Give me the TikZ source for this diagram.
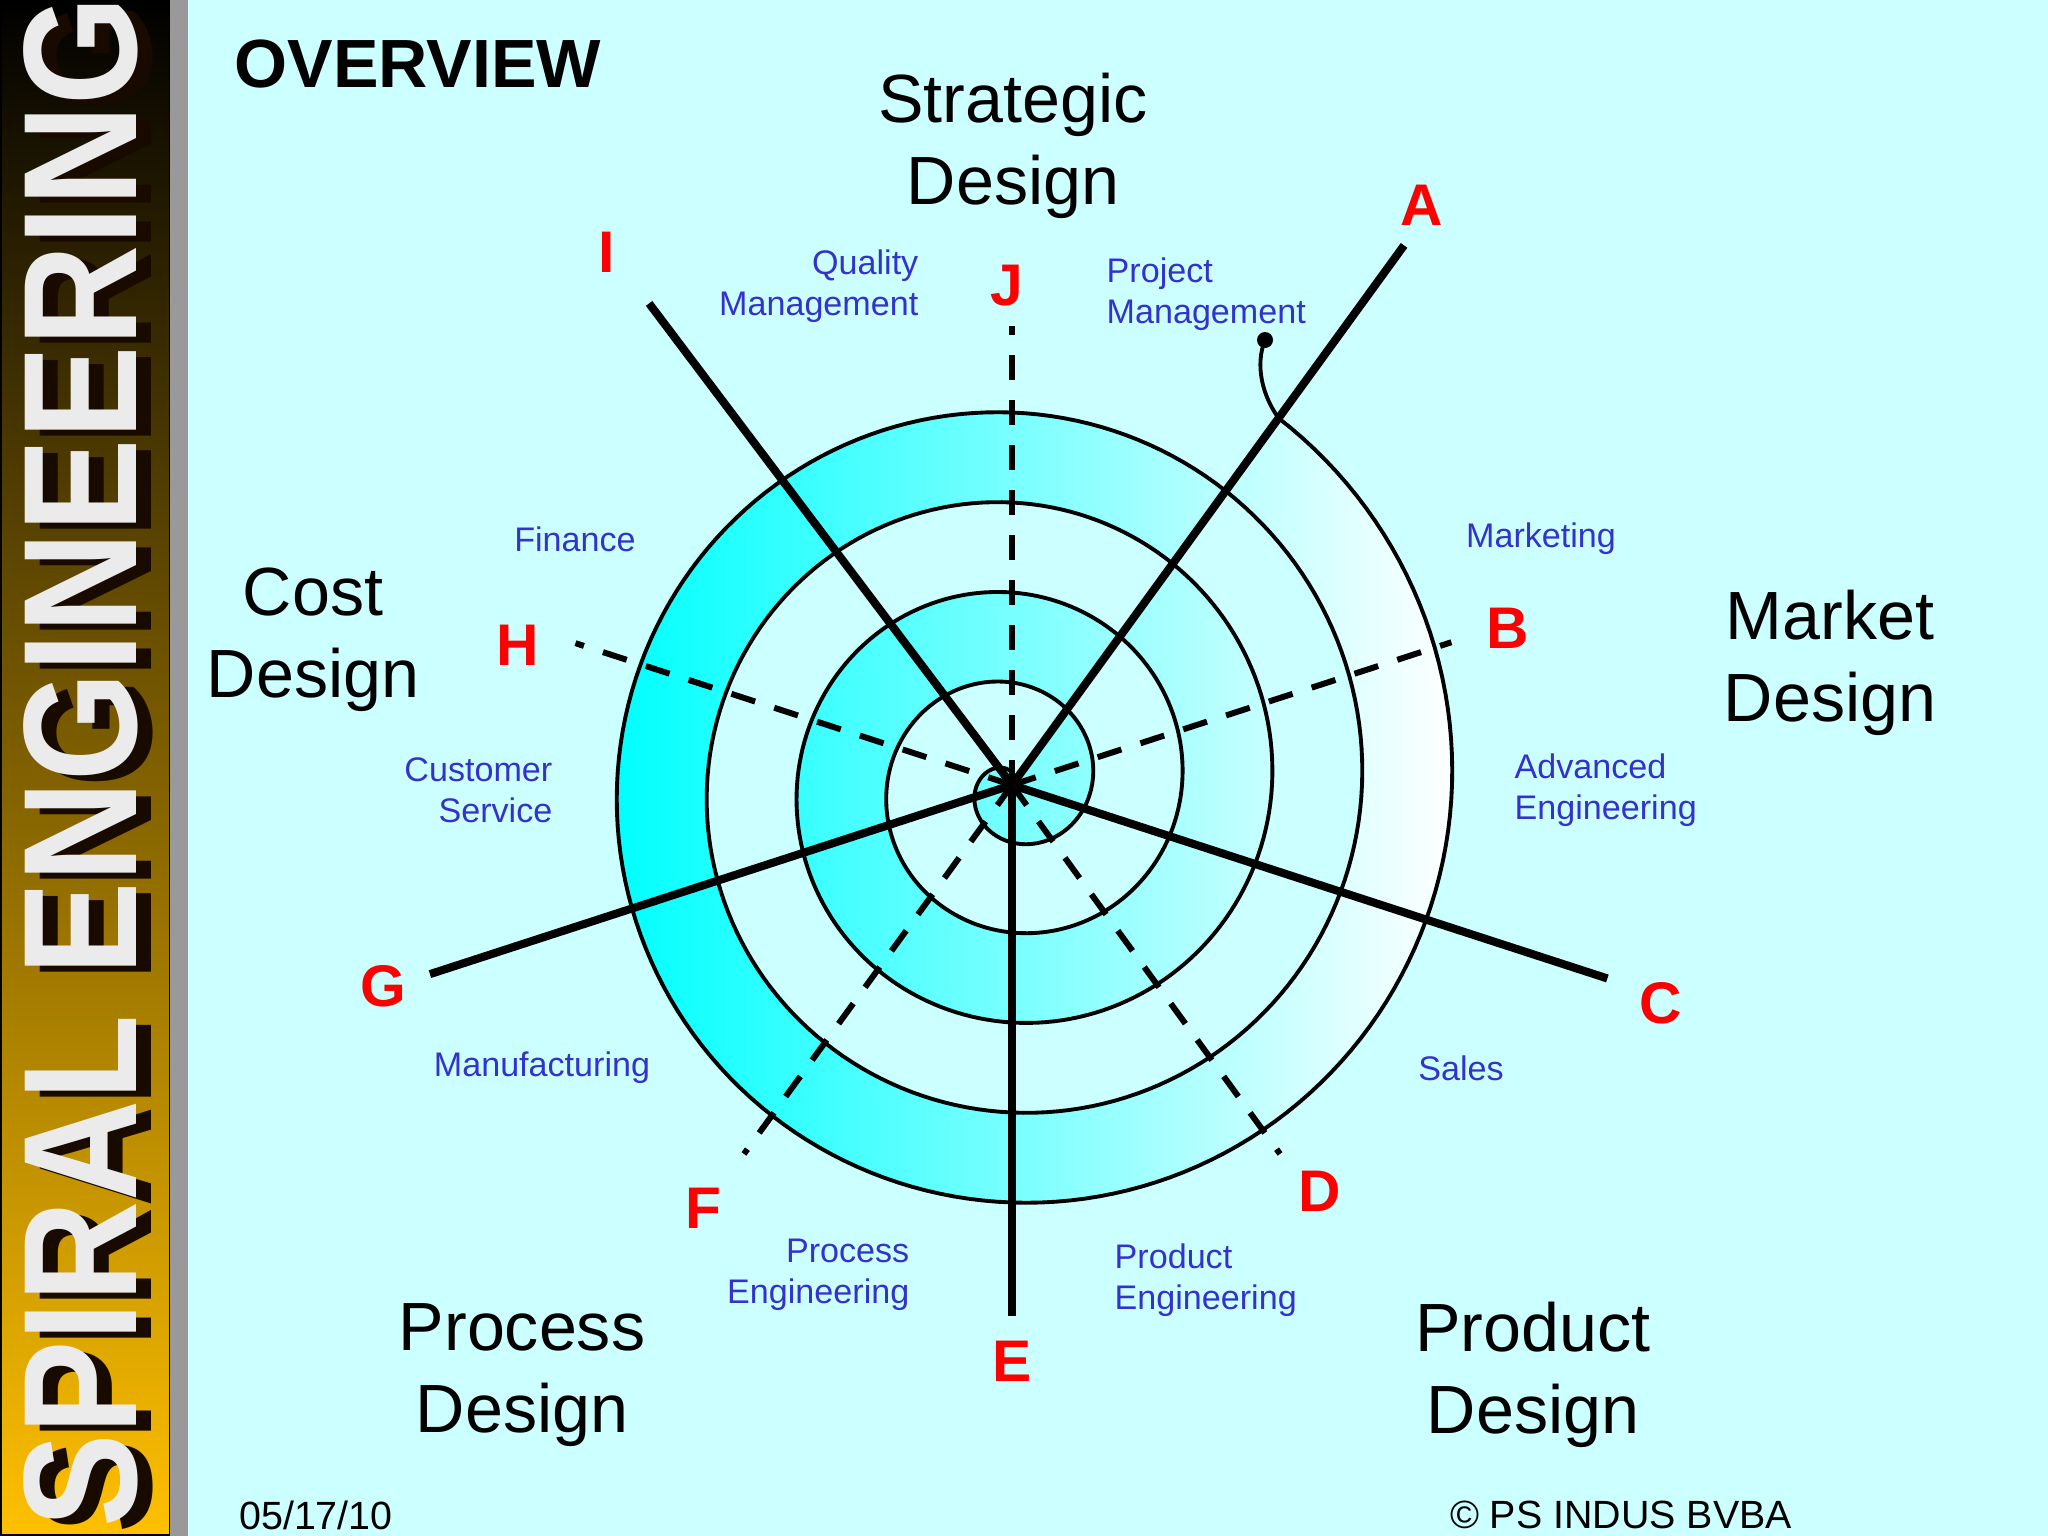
\documentclass[tikz,border=0pt]{standalone}
\usepackage{fontspec}
\setmainfont{Liberation Sans}
\usetikzlibrary{calc}
\definecolor{bgcyan}{RGB}{204,255,255}
\definecolor{labelblue}{RGB}{51,51,204}
\definecolor{gold}{RGB}{255,192,0}
\definecolor{sidegrey}{RGB}{153,153,153}
\definecolor{shadowbrown}{RGB}{25,10,0}
\definecolor{marble}{RGB}{235,235,235}
\begin{document}
\begin{tikzpicture}[x=0.01cm,y=-0.01cm,
  bigtxt/.style={font=\fontsize{19.4}{23.4}\selectfont, align=center, inner sep=0pt},
  bluetxt/.style={text=labelblue, font=\fontsize{9.7}{11.6}\selectfont, inner sep=0pt},
  redtxt/.style={text=red, font=\bfseries\fontsize{16.7}{20}\selectfont, inner sep=0pt},
  foot/.style={font=\fontsize{11.2}{13}\selectfont, inner sep=0pt},
  spiralline/.style={line width=1.1pt, black},
  solidspoke/.style={line width=2.3pt, black},
  dashspoke/.style={line width=1.7pt, black, dash pattern=on 7.1pt off 5.7pt}]
\useasboundingbox (0,0) rectangle (2048,1536);
\fill[bgcyan] (0,0) rectangle (2048,1536);
% sidebar
\shade[top color=black, bottom color=gold] (0,0) rectangle (170,1536);
\draw[black, line width=0.5pt] (1,1) rectangle (170,1535);
\fill[sidegrey] (170,0) rectangle (188,1536);
\node[rotate=90, text=shadowbrown, inner sep=0pt, font=\bfseries\fontsize{46}{50}\selectfont] (sideshadow) at (96,768) {\scalebox{0.865}[1]{SPIRAL ENGINEERING}};
\node[rotate=90, text=marble, inner sep=0pt, font=\bfseries\fontsize{46}{50}\selectfont] (sidetitle) at (81,762) {\scalebox{0.865}[1]{SPIRAL ENGINEERING}};
% spiral
\coordinate (O) at (1012,785);
\begin{scope}[shift={(1012,785)}]
  \shade[even odd rule, left color=cyan, right color=white]
    plot[domain=-54:1760, samples=908] (\x:{440-\x/4}) -- cycle;
  \draw[spiralline] (253,-445) .. controls (243,-420) and (250,-390) .. (-54:453.5)
    -- plot[domain=-54:1760, samples=908] (\x:{440-\x/4});
  \fill (253,-445) circle[radius=8];
\end{scope}
\coordinate (dot) at (1265,340);
% spokes
\coordinate (Aend) at ($(O)+(-54:667)$);
\coordinate (Cend) at ($(O)+(18:626)$);
\coordinate (Eend) at ($(O)+(90:531)$);
\coordinate (Gend) at ($(O)+(162:612)$);
\coordinate (Iend) at ($(O)+(-127:603)$);
\coordinate (Jend) at ($(O)+(-90:459)$);
\coordinate (Bend) at ($(O)+(-18:462)$);
\coordinate (Dend) at ($(O)+(54:456)$);
\coordinate (Fend) at ($(O)+(126:456)$);
\coordinate (Hend) at ($(O)+(198:459)$);
\foreach \e in {Jend,Bend,Dend,Fend,Hend} \draw[dashspoke] (O) -- (\e);
\foreach \e in {Aend,Cend,Eend,Gend,Iend} \draw[solidspoke] (O) -- (\e);
% letters
\node[redtxt] (A) at (1422,205) {A};
\node[redtxt] (B) at (1508,628) {B};
\node[redtxt] (C) at (1661,1003) {C};
\node[redtxt] (D) at (1320,1191) {D};
\node[redtxt] (E) at (1012,1361) {E};
\node[redtxt] (F) at (703,1208) {F};
\node[redtxt] (G) at (383,986) {G};
\node[redtxt] (H) at (518,645) {H};
\node[redtxt] (I) at (607,252) {I};
\node[redtxt] (J) at (1007,286) {J};
% blue labels
\node[bluetxt, anchor=east, align=right] (qm) at (919,286) {Quality\\Management};
\node[bluetxt, anchor=west, align=left] (pm) at (1106,294) {Project\\Management};
\node[bluetxt] (fin) at (575,539) {Finance};
\node[bluetxt] (mkt) at (1541,539) {Marketing};
\node[bluetxt, anchor=east, align=right] (cs) at (553,790) {Customer\\Service};
\node[bluetxt, anchor=west, align=left] (ae) at (1514,790) {Advanced\\Engineering};
\node[bluetxt] (mfg) at (542,1068) {Manufacturing};
\node[bluetxt] (sales) at (1461,1068) {Sales};
\node[bluetxt, anchor=east, align=right] (pe) at (910,1275) {Process\\Engineering};
\node[bluetxt, anchor=west, align=left] (pde) at (1114,1280) {Product\\Engineering};
% big labels
\node[bigtxt] (sd) at (1013,146) {Strategic\\Design};
\node[bigtxt] (md) at (1830,663) {Market\\Design};
\node[bigtxt] (cd) at (313,640) {Cost\\Design};
\node[bigtxt] (prd) at (522,1375) {Process\\Design};
\node[bigtxt] (pdd) at (1533,1375) {Product\\Design};
\node[inner sep=0pt, font=\bfseries\fontsize{19.4}{22}\selectfont] (ov) at (418,64) {OVERVIEW};
\node[foot] (date) at (316,1515) {05/17/10};
\node[foot] (copy) at (1621,1515) {© PS INDUS BVBA};
\end{tikzpicture}
\end{document}
